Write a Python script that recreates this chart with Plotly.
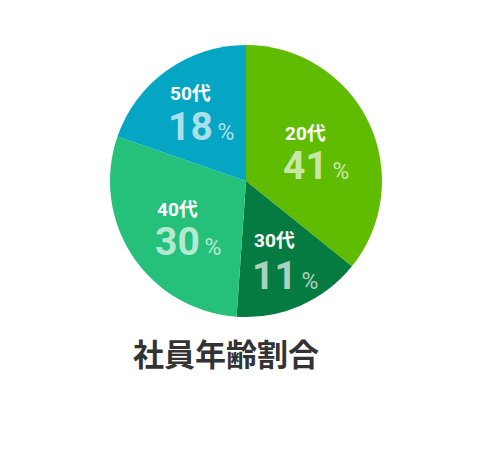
import plotly.graph_objects as go

# age groups and the percentages printed on the chart
ages = ["20代", "30代", "40代", "50代"]
shown_pct = [41, 11, 30, 18]
# slice sizes as they are actually drawn in the picture (angles measured)
slice_share = [35.8, 15.3, 29.2, 19.7]
colors = ["#60bc00", "#067b41", "#25c07a", "#04a6c4"]

title = "社員年齢割合"

W, H = 489, 450
OX, OY = 8, 8  # page body margin of the html output
cx, cy, r = 246 - OX, 181 - OY, 136


def px(x):
    return (x - OX) / W


def py(y):
    return 1 - (y - OY) / H


fig = go.Figure(go.Pie(
    labels=ages,
    values=slice_share,
    marker=dict(colors=colors, line=dict(width=0)),
    sort=False,
    direction="clockwise",
    rotation=0,
    textinfo="none",
    hoverinfo="skip",
    showlegend=False,
    domain=dict(x=[(cx - r) / W, (cx + r) / W], y=[1 - (cy + r) / H, 1 - (cy - r) / H]),
))

# label positions in reference pixels: small label (x, y), big number y
pos = [
    (283, 133, 166),
    (252, 240, 276),
    (155, 209, 242),
    (168, 93, 127),
]

sans = "Roboto, Noto Sans CJK JP"
soft = "rgba(255,255,255,0.68)"

ann = []
for age, pct, (lx, ly, ny) in zip(ages, shown_pct, pos):
    ann.append(dict(x=px(lx), y=py(ly), xref="paper", yref="paper", xanchor="left", yanchor="middle",
                    text="<b>" + age + "</b>", showarrow=False,
                    font=dict(family=sans, size=19, color="white")))
    ann.append(dict(x=px(lx - 2), y=py(ny), xref="paper", yref="paper", xanchor="left", yanchor="middle",
                    text="<b>" + str(pct) + "</b><span style='font-size:23px'>\u2009%</span>", showarrow=False,
                    font=dict(family=sans, size=39, color=soft)))

ann.append(dict(x=px(226), y=py(352), xref="paper", yref="paper", xanchor="center", yanchor="middle",
                text="<b>" + title + "</b>", showarrow=False,
                font=dict(family="Noto Sans CJK JP", size=31, color="#333333")))

fig.update_layout(
    width=W, height=H,
    margin=dict(l=0, r=0, t=0, b=0),
    paper_bgcolor="white", plot_bgcolor="white",
    annotations=ann,
)

fig.write_html("out.html")
